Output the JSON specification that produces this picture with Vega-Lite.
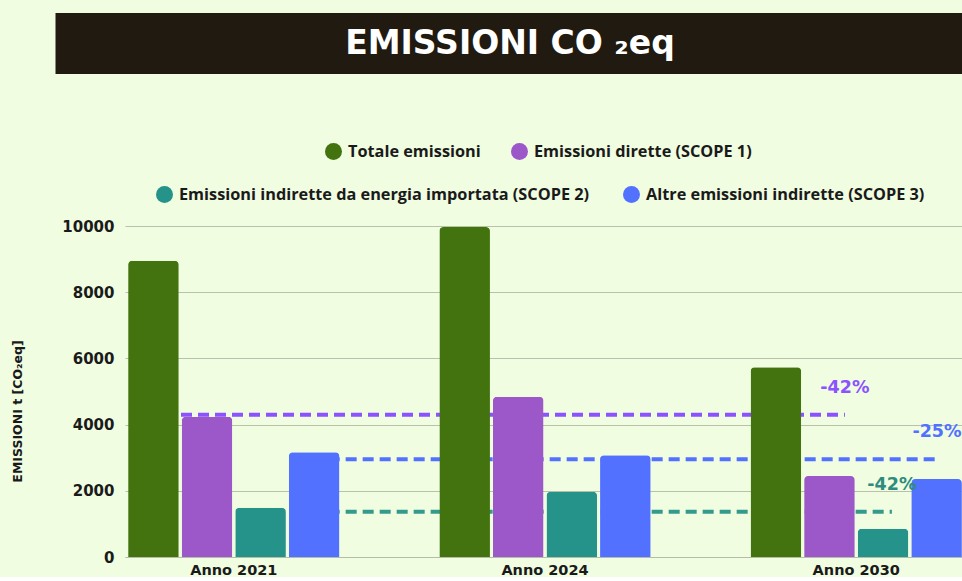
{
  "$schema": "https://vega.github.io/schema/vega-lite/v6.json",
  "background": "#f0fde1",
  "padding": {"left": 11, "top": 12, "right": 0, "bottom": 0},
  "config": {
    "view": {"stroke": null},
    "legend": {"padding": 0}
  },
  "datasets": {
    "titolo": [{"t": "EMISSIONI CO ₂eq"}],
    "emissioni": [
      {"anno": "Anno 2021", "serie": "Totale emissioni", "valore": 8950},
      {"anno": "Anno 2021", "serie": "Emissioni dirette (SCOPE 1)", "valore": 4240},
      {"anno": "Anno 2021", "serie": "Emissioni indirette da energia importata (SCOPE 2)", "valore": 1490},
      {"anno": "Anno 2021", "serie": "Altre emissioni indirette (SCOPE 3)", "valore": 3165},
      {"anno": "Anno 2024", "serie": "Totale emissioni", "valore": 9970},
      {"anno": "Anno 2024", "serie": "Emissioni dirette (SCOPE 1)", "valore": 4843},
      {"anno": "Anno 2024", "serie": "Emissioni indirette da energia importata (SCOPE 2)", "valore": 1973},
      {"anno": "Anno 2024", "serie": "Altre emissioni indirette (SCOPE 3)", "valore": 3072},
      {"anno": "Anno 2030", "serie": "Totale emissioni", "valore": 5730},
      {"anno": "Anno 2030", "serie": "Emissioni dirette (SCOPE 1)", "valore": 2447},
      {"anno": "Anno 2030", "serie": "Emissioni indirette da energia importata (SCOPE 2)", "valore": 856},
      {"anno": "Anno 2030", "serie": "Altre emissioni indirette (SCOPE 3)", "valore": 2356}
    ],
    "obiettivi": [
      {"serie": "SCOPE 1", "inizio": 0.18, "fine": 2.314, "valore": 4300, "etichetta": "-42%"},
      {"serie": "SCOPE 3", "inizio": 0.6, "fine": 2.61, "valore": 2955, "etichetta": "-25%"},
      {"serie": "SCOPE 2", "inizio": 0.6, "fine": 2.465, "valore": 1369, "etichetta": "-42%"}
    ]
  },
  "spacing": 69,
  "resolve": {"legend": {"color": "independent", "fill": "independent"}},
  "vconcat": [
    {
      "width": 840,
      "height": 61,
      "view": {"fill": "#201a10", "stroke": null},
      "data": {"name": "titolo"},
      "mark": {"type": "text", "font": "DejaVu Sans", "fontWeight": "bold", "fontSize": 33, "color": "#ffffff", "baseline": "middle", "align": "center", "dx": -35},
      "encoding": {
        "text": {"field": "t", "type": "nominal"},
        "y": {"field": "t", "type": "nominal", "axis": {"title": null, "labels": false, "domain": false, "grid": false, "ticks": true, "tickSize": 70, "tickWidth": 61, "tickOffset": -0.5, "tickColor": "#201a10", "tickCap": "butt"}}
      }
    },
    {
      "width": 840,
      "height": 331,
      "resolve": {"scale": {"x": "independent", "fill": "independent"}},
      "layer": [
        {
          "data": {"name": "obiettivi"},
          "mark": {"type": "rule", "strokeWidth": 4, "strokeDash": [11, 6]},
          "encoding": {
            "x": {"field": "inizio", "type": "quantitative", "scale": {"domain": [0, 2.7], "nice": false, "zero": false}, "axis": null},
            "x2": {"field": "fine"},
            "y": {"field": "valore", "type": "quantitative", "scale": {"domain": [0, 10000], "nice": false}},
            "stroke": {"field": "serie", "type": "nominal", "scale": {"domain": ["SCOPE 1", "SCOPE 2", "SCOPE 3"], "range": ["#8c52ff", "#339a8c", "#5271ff"]}, "legend": null}
          }
        },
        {
          "data": {"name": "emissioni"},
          "layer": [
            {
              "transform": [{"filter": {"field": "serie", "oneOf": ["Totale emissioni", "Emissioni dirette (SCOPE 1)"]}}],
              "mark": {"type": "bar", "cornerRadiusTopLeft": 4, "cornerRadiusTopRight": 4},
              "encoding": {
                "x": {
                  "field": "anno", "type": "nominal",
                  "scale": {"domain": ["Anno 2021", "Anno 2024", "Anno 2030"], "paddingInner": 0.321, "paddingOuter": 0.01},
                  "axis": {"title": null, "labelAngle": 0, "domain": true, "domainColor": "#b3bda8", "ticks": false, "labelPadding": 6, "labelFont": "DejaVu Sans", "labelFontSize": 14.5, "labelFontWeight": "bold", "labelColor": "#1a1a1a", "grid": false}
                },
                "xOffset": {
                  "field": "serie", "type": "nominal",
                  "scale": {"domain": ["Totale emissioni", "Emissioni dirette (SCOPE 1)", "Emissioni indirette da energia importata (SCOPE 2)", "Altre emissioni indirette (SCOPE 3)"], "paddingInner": 0.055}
                },
                "y": {
                  "field": "valore", "type": "quantitative",
                  "scale": {"domain": [0, 10000], "nice": false},
                  "axis": {"title": "EMISSIONI t [CO₂eq]", "values": [0, 2000, 4000, 6000, 8000, 10000], "format": "d", "grid": true, "gridColor": "#b7c1ab", "domain": false, "ticks": false, "labelPadding": 11, "labelFont": "DejaVu Sans", "labelFontSize": 15, "labelFontWeight": "bold", "labelColor": "#1a1a1a", "titleFont": "DejaVu Sans", "titleFontSize": 12.5, "titleFontWeight": "bold", "titleColor": "#1a1a1a", "titlePadding": 37, "titleY": 185}
                },
                "color": {
                  "field": "serie", "type": "nominal",
                  "scale": {"domain": ["Totale emissioni", "Emissioni dirette (SCOPE 1)"], "range": ["#42730f", "#9c58c9"]},
                  "legend": {"title": null, "orient": "none", "legendX": 200, "legendY": -83, "direction": "horizontal", "symbolType": "circle", "symbolSize": 289, "symbolStrokeWidth": 0, "labelFont": "Open Sans", "labelFontSize": 16.3, "labelFontWeight": "bold", "labelColor": "#1a1a1a", "labelOffset": 6, "columnPadding": 30, "labelLimit": 600}
                }
              }
            },
            {
              "transform": [{"filter": {"field": "serie", "oneOf": ["Emissioni indirette da energia importata (SCOPE 2)", "Altre emissioni indirette (SCOPE 3)"]}}],
              "mark": {"type": "bar", "cornerRadiusTopLeft": 4, "cornerRadiusTopRight": 4},
              "encoding": {
                "x": {
                  "field": "anno", "type": "nominal",
                  "scale": {"domain": ["Anno 2021", "Anno 2024", "Anno 2030"], "paddingInner": 0.321, "paddingOuter": 0.01}
                },
                "xOffset": {
                  "field": "serie", "type": "nominal",
                  "scale": {"domain": ["Totale emissioni", "Emissioni dirette (SCOPE 1)", "Emissioni indirette da energia importata (SCOPE 2)", "Altre emissioni indirette (SCOPE 3)"], "paddingInner": 0.055}
                },
                "y": {"field": "valore", "type": "quantitative"},
                "fill": {
                  "field": "serie", "type": "nominal",
                  "scale": {"domain": ["Emissioni indirette da energia importata (SCOPE 2)", "Altre emissioni indirette (SCOPE 3)"], "range": ["#26938a", "#5271ff"]},
                  "legend": {"title": null, "orient": "none", "legendX": 31, "legendY": -40, "direction": "horizontal", "symbolType": "circle", "symbolSize": 289, "symbolStrokeWidth": 0, "labelFont": "Open Sans", "labelFontSize": 16.3, "labelFontWeight": "bold", "labelColor": "#1a1a1a", "labelOffset": 6, "columnPadding": 33, "labelLimit": 600}
                }
              }
            }
          ]
        },
        {
          "data": {"name": "obiettivi"},
          "mark": {"type": "text", "font": "DejaVu Sans", "fontWeight": "bold", "fontSize": 17.5, "align": "center", "baseline": "middle", "dy": -27},
          "encoding": {
            "x": {"field": "fine", "type": "quantitative", "scale": {"domain": [0, 2.7], "nice": false, "zero": false}, "axis": null},
            "y": {"field": "valore", "type": "quantitative"},
            "text": {"field": "etichetta", "type": "nominal"},
            "fill": {"field": "serie", "type": "nominal", "scale": {"domain": ["SCOPE 1", "SCOPE 2", "SCOPE 3"], "range": ["#8c52ff", "#2e8c7e", "#5271ff"]}, "legend": null}
          }
        }
      ]
    }
  ]
}
